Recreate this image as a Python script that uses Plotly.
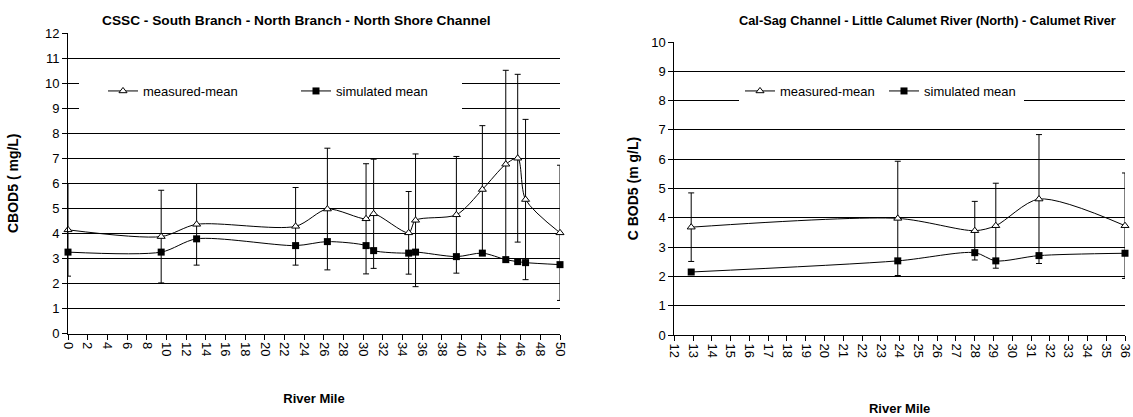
import plotly.graph_objects as go

# ---------------- data ----------------
left_miles = [0, 9.47, 13.07, 23.13, 26.36, 30.29, 31.06, 34.62, 35.32, 39.47, 42.11, 44.49, 45.7, 46.5, 50]
left_measured = [4.14, 3.87, 4.36, 4.28, 4.97, 4.58, 4.78, 4.02, 4.52, 4.74, 5.75, 6.76, 7.0, 5.35, 4.02]
left_err = [1.85, 1.85, 1.63, 1.55, 2.43, 2.2, 2.18, 1.65, 2.65, 2.33, 2.55, 3.75, 3.35, 3.2, 2.7]
left_simulated = [3.25, 3.25, 3.78, 3.51, 3.67, 3.51, 3.31, 3.21, 3.25, 3.07, 3.21, 2.95, 2.87, 2.83, 2.75]

right_miles = [12.9, 23.9, 28.0, 29.12, 31.42, 36.0]
right_measured = [3.68, 3.98, 3.56, 3.73, 4.64, 3.73]
right_err = [1.17, 1.95, 1.0, 1.45, 2.2, 1.8]
right_simulated = [2.15, 2.53, 2.81, 2.53, 2.71, 2.79]

left_title = "CSSC - South Branch - North Branch - North Shore Channel"
right_title = "Cal-Sag Channel - Little Calumet River (North) - Calumet River"
left_ytitle = "CBOD5 ( mg/L)"
right_ytitle = "C BOD5 (m g/L)"
xtitle = "River Mile"
name_measured = "measured-mean"
name_simulated = "simulated mean"

# ---------------- style ----------------
W, H = 1133, 417
FONT = "Liberation Sans Narrow, Arial Narrow, Liberation Sans, Arial, sans-serif"


def px_x(p):
    return p / W


def px_y(p):
    return 1 - p / H


fig = go.Figure()

common_line = dict(color="black", width=1, shape="spline", smoothing=0.8)

fig.add_trace(go.Scatter(
    x=left_miles, y=left_measured, name=name_measured, mode="lines+markers",
    line=common_line,
    marker=dict(symbol="triangle-up", size=7, color="white", line=dict(color="black", width=1)),
    error_y=dict(type="data", array=left_err, visible=True, color="black", thickness=1, width=3),
    xaxis="x", yaxis="y", legend="legend", cliponaxis=False,
))
fig.add_trace(go.Scatter(
    x=left_miles, y=left_simulated, name=name_simulated, mode="lines+markers",
    line=common_line,
    marker=dict(symbol="square", size=7, color="black", line=dict(color="black", width=0)),
    xaxis="x", yaxis="y", legend="legend", cliponaxis=False,
))
fig.add_trace(go.Scatter(
    x=right_miles, y=right_measured, name=name_measured, mode="lines+markers",
    line=common_line,
    marker=dict(symbol="triangle-up", size=7, color="white", line=dict(color="black", width=1)),
    error_y=dict(type="data", array=right_err, visible=True, color="black", thickness=1, width=3),
    xaxis="x2", yaxis="y2", legend="legend2", cliponaxis=False,
))
fig.add_trace(go.Scatter(
    x=right_miles, y=right_simulated, name=name_simulated, mode="lines+markers",
    line=common_line,
    marker=dict(symbol="square", size=7, color="black", line=dict(color="black", width=0)),
    xaxis="x2", yaxis="y2", legend="legend2", cliponaxis=False,
))

tickfont = dict(family=FONT, size=13, color="black")
titlefont = dict(family=FONT, size=13, color="black", weight="bold")
ytitlefont = dict(family=FONT, size=14, color="black", weight="bold")

axis_common = dict(
    showline=True, linecolor="black", linewidth=1,
    ticks="outside", ticklen=5, tickcolor="black", tickwidth=1,
    tickfont=tickfont, zeroline=False, automargin=False,
    ticklabeloverflow="allow",
)

fig.update_layout(
    width=W, height=H, autosize=False,
    margin=dict(l=0, r=0, t=0, b=0),
    paper_bgcolor="white", plot_bgcolor="white",
    font=dict(family=FONT, color="black"),
    xaxis=dict(domain=[px_x(68), px_x(560)], range=[0, 50], dtick=2, tick0=0,
               tickangle=90, showgrid=False, anchor="y",
               title=dict(text=xtitle, font=titlefont, standoff=38), **axis_common),
    yaxis=dict(domain=[px_y(333.5), px_y(33)], range=[0, 12], dtick=1,
               showgrid=True, gridcolor="black", gridwidth=1, anchor="x",
               title=dict(text=left_ytitle, font=ytitlefont, standoff=23), **axis_common),
    xaxis2=dict(domain=[px_x(674.3), px_x(1125)], range=[12, 36], dtick=1, tick0=12,
                tickangle=90, showgrid=False, anchor="y2",
                title=dict(text=xtitle, font=titlefont, standoff=46), **axis_common),
    yaxis2=dict(domain=[px_y(335), px_y(42)], range=[0, 10], dtick=1,
                showgrid=True, gridcolor="black", gridwidth=1, anchor="x2",
                title=dict(text=right_ytitle, font=ytitlefont, standoff=9), **axis_common),
    legend=dict(orientation="h", x=px_x(103), xanchor="left", y=px_y(91), yanchor="middle",
                bgcolor="rgba(0,0,0,0)", font=dict(family=FONT, size=13, color="black"),
                entrywidth=148, entrywidthmode="pixels", itemclick=False),
    legend2=dict(orientation="h", x=px_x(740), xanchor="left", y=px_y(91), yanchor="middle",
                 bgcolor="rgba(0,0,0,0)", font=dict(family=FONT, size=13, color="black"),
                 entrywidth=99, entrywidthmode="pixels", itemclick=False),
    showlegend=True,
    annotations=[
        dict(text=left_title, x=px_x(296), y=px_y(20), xref="paper", yref="paper",
             showarrow=False, font=dict(family=FONT, size=13.7, color="black", weight="bold"),
             xanchor="center", yanchor="middle"),
        dict(text=right_title, x=px_x(927), y=px_y(20), xref="paper", yref="paper",
             showarrow=False, font=dict(family=FONT, size=12.8, color="black", weight="bold"),
             xanchor="center", yanchor="middle"),
    ],
    shapes=[
        # white backgrounds of the legends (hide gridlines behind them)
        dict(type="rect", xref="paper", yref="paper", x0=px_x(79), x1=px_x(462),
             y0=px_y(113), y1=px_y(80), fillcolor="white", line=dict(width=0), layer="above"),
        dict(type="rect", xref="paper", yref="paper", x0=px_x(739), x1=px_x(1024),
             y0=px_y(110), y1=px_y(89), fillcolor="white", line=dict(width=0), layer="above"),
    ],
)

# remove the browser's default 8px page margin so the figure fills the window exactly
fig.write_html(
    "out.html",
    config={"displayModeBar": False},
    post_script="document.body.style.margin='0';document.body.style.overflow='hidden';",
)
